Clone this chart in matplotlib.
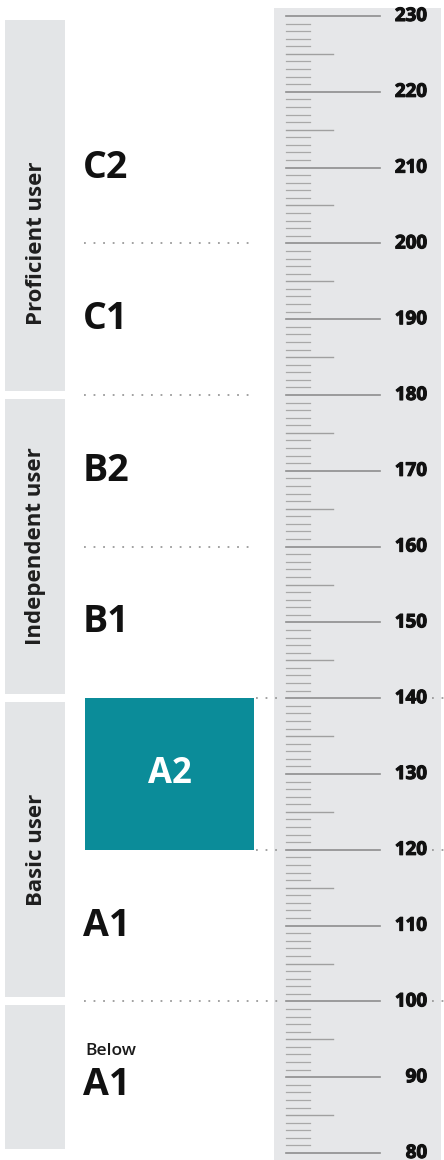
import numpy as np
import matplotlib
matplotlib.use("Agg")
import matplotlib.pyplot as plt
import matplotlib.patheffects as pe
from matplotlib.patches import Rectangle

plt.rcParams['font.family'] = ['Open Sans', 'DejaVu Sans']

# score scale
score_min, score_max = 80, 230
score_ticks = list(range(80, 231))
major_labels = [80, 90, 100, 110, 120, 130, 140, 150, 160, 170, 180, 190, 200, 210, 220, 230]

# CEFR levels: label, lower bound, upper bound, label position
level_names = ['Below\nA1', 'A1', 'A2', 'B1', 'B2', 'C1', 'C2']
level_low = [80, 100, 120, 140, 160, 180, 200]
level_high = [100, 120, 140, 160, 180, 200, 230]
level_label_pos = [90, 110, 130, 150, 170, 190, 210]
highlight = 'A2'

# user groups on the left
group_names = ['', 'Basic user', 'Independent user', 'Proficient user']
group_low = [80, 100, 140, 180]
group_high = [100, 140, 180, 230]
group_label_pos = [90, 120, 160, 200]

# boundaries that run through to the ruler
long_bounds = [100, 120, 140]

teal = '#0b8c99'
band_gray = '#e3e5e7'
ruler_gray = '#e6e7e9'
dot_gray = '#9a9a9a'

fig = plt.figure(figsize=(4.44, 11.6), dpi=100)
ax = fig.add_axes([0, 0, 1, 1])
ax.set_xlim(0, 444)
ax.set_ylim(79.08, 232.11)
ax.axis('off')

px = 1 / 7.58  # one pixel in score units

# group bands
for name, lo, hi, pos in zip(group_names, group_low, group_high, group_label_pos):
    ax.add_patch(Rectangle((5, lo + 4 * px), 60, (hi - lo) - 8 * px,
                           color=band_gray, lw=0, zorder=1))
    if name:
        ax.text(36, pos, name, rotation=90, ha='center', va='center',
                fontsize=16, fontweight='bold', color='#1e1e1e', zorder=3)

# ruler background
ax.add_patch(Rectangle((274, 79), 167, 231 - 79, color=ruler_gray, lw=0, zorder=1))

# dotted separators between levels
dots = (0, (1, 4.3))
for b in level_low[1:]:
    if b in long_bounds:
        continue
    ax.plot([84, 256], [b, b], color=dot_gray, lw=1.3, ls=dots, zorder=2)
for b in long_bounds:
    if b == 100:
        ax.plot([84, 284], [b, b], color=dot_gray, lw=1.3, ls=dots, zorder=2)
    else:
        ax.plot([256, 284], [b, b], color=dot_gray, lw=1.3, ls=dots, zorder=2)
    ax.plot([432, 444], [b, b], color=dot_gray, lw=1.3, ls=dots, zorder=2)

# level labels
for name, lo, hi, pos in zip(level_names, level_low, level_high, level_label_pos):
    if name == highlight:
        ax.add_patch(Rectangle((85, lo), 169, hi - lo, color=teal, lw=0, zorder=2))
        ax.text(169.5, pos, name, ha='center', va='center', fontsize=25,
                fontweight='bold', color='white', zorder=3)
    elif name.startswith('Below'):
        top, bottom = name.split('\n')
        ax.text(85, pos + 3.4, top, ha='left', va='center', fontsize=12.5,
                fontweight='semibold', color='#1a1a1a', zorder=3)
        ax.text(83, pos - 1.0, bottom, ha='left', va='center', fontsize=27,
                fontweight='bold', color='#111111', zorder=3)
    else:
        ax.text(83, pos, name, ha='left', va='center', fontsize=27,
                fontweight='bold', color='#111111', zorder=3)

# ruler ticks
for t in score_ticks:
    if t % 10 == 0:
        ax.plot([286, 380], [t, t], color='#8e8e8e', lw=1.2, zorder=2)
    elif t % 5 == 0:
        ax.plot([286, 333], [t, t], color='#a0a0a0', lw=1.0, zorder=2)
    else:
        ax.plot([286, 310], [t, t], color='#a8a8a8', lw=0.9, zorder=2)

for t in major_labels:
    ax.text(427, t, str(t), ha='right', va='center', fontsize=13.5,
            fontweight='bold', color='#111111', zorder=3,
            path_effects=[pe.withStroke(linewidth=0.8, foreground='#111111')])

fig.savefig('out.png', dpi=100, facecolor='white')
